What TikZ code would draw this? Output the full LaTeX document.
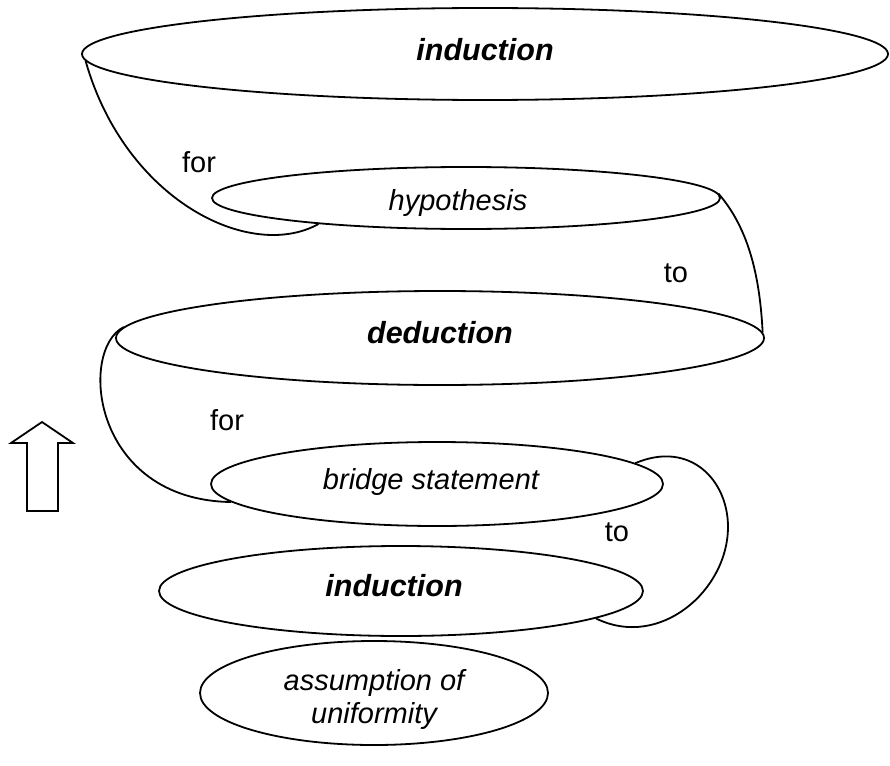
\documentclass[tikz,border=0pt]{standalone}
\usepackage{fontspec}
\setmainfont{Liberation Sans}
\usetikzlibrary{shapes.geometric}
\begin{document}
\begin{tikzpicture}[x=1pt,y=-1pt,
  ell/.style={draw,ellipse,line width=1.8pt,inner sep=0pt,text height=13pt,text depth=3pt,
    font=\fontsize{29}{32}\selectfont\itshape},
  bld/.style={font=\fontsize{30.5}{33}\selectfont\bfseries\itshape},
  lbl/.style={inner sep=0pt,font=\fontsize{29}{32}\selectfont},
  conn/.style={line width=1.8pt}]
\useasboundingbox (0,0) rectangle (890,765);
\node[ell,bld,text height=17pt,minimum width=806pt,minimum height=92pt] (ind1) at (485,54) {induction};
\node[ell,text height=27pt,minimum width=508pt,minimum height=62pt] (hyp) at (466,198) {hypothesis\kern16pt};
\node[ell,bld,minimum width=648pt,minimum height=94pt] (ded) at (440,338) {deduction};
\node[ell,minimum width=452pt,minimum height=84pt] (br) at (437,484) {bridge statement\kern12pt};
\node[ell,bld,minimum width=484pt,minimum height=90pt] (ind2) at (401,591) {induction\kern14pt};
\node[ell,text height=14pt,text depth=20pt,minimum width=348pt,minimum height=104pt] (asm) at (374,693)
  {\begin{tabular}[t]{@{}c@{}}assumption of\\[1pt]uniformity\end{tabular}};
\node[lbl] (for1) at (199,162) {for};
\node[lbl] (to1) at (676,273) {to};
\node[lbl] (for2) at (227,420) {for};
\node[lbl] (to2) at (617,532) {to};
\draw[conn] (ind1.181.5) .. controls (125,200) and (250,262) .. (hyp.190);
\draw[conn] (hyp.1) .. controls (750,230) and (760,280) .. (ded.1);
\draw[conn] (ded.178) .. controls (78,350) and (92,500) .. (br.185);
\draw[conn] (br.6) .. controls (690,440) and (728,480) .. (728,527)
  .. controls (728,590) and (660,650) .. (ind2.352);
\draw[conn,line join=miter] (42,422) -- (73,443) -- (58,443) -- (58,511) -- (27,511) -- (27,443) -- (11,443) -- cycle;
\end{tikzpicture}
\end{document}
